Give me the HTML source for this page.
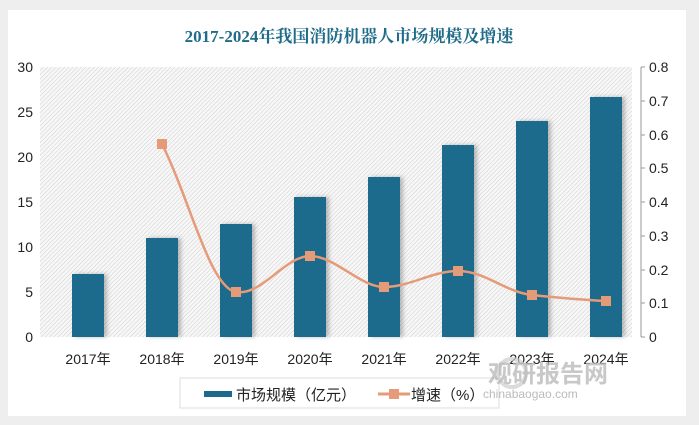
<!DOCTYPE html>
<html><head><meta charset="utf-8"><style>
body{margin:0;background:#eeeeee;}
svg{display:block;font-family:"Liberation Sans","Noto Sans CJK SC",sans-serif;}
</style></head><body>
<svg width="699" height="425" viewBox="0 0 699 425">
<defs>
<pattern id="h" width="3" height="3" patternUnits="userSpaceOnUse" patternTransform="rotate(45)">
<rect width="3" height="3" fill="#f7f7f7"/><line x1="0" y1="0" x2="0" y2="3" stroke="#cfcfcf" stroke-width="1"/>
</pattern>
<filter id="s" x="-20%" y="-5%" width="150%" height="110%"><feDropShadow dx="3" dy="0" stdDeviation="2" flood-color="#000" flood-opacity="0.25"/></filter>
</defs>
<rect x="8" y="10" width="678" height="406" fill="#fff"/>
<text x="349" y="42" text-anchor="middle" font-family="Liberation Serif,'Noto Serif CJK SC',serif" font-weight="bold" font-size="17" fill="#1f6b8a">2017-2024年我国消防机器人市场规模及增速</text>
<rect x="40" y="67" width="592" height="270" fill="url(#h)"/>
<g fill="#1b6a8c" filter="url(#s)">
<rect x="72" y="274" width="32" height="63"/>
<rect x="146" y="238" width="32" height="99"/>
<rect x="220" y="224" width="32" height="113"/>
<rect x="294" y="197" width="32" height="140"/>
<rect x="368" y="177" width="32" height="160"/>
<rect x="442" y="145" width="32" height="192"/>
<rect x="516" y="121" width="32" height="216"/>
<rect x="590" y="97" width="32" height="240"/>
</g>
<g font-size="14" fill="#222" text-anchor="end">
<text x="33" y="72">30</text><text x="33" y="117">25</text><text x="33" y="162">20</text><text x="33" y="207">15</text><text x="33" y="252">10</text><text x="33" y="297">5</text><text x="33" y="342">0</text>
</g>
<line x1="641" y1="67" x2="641" y2="337" stroke="#999"/>
<g stroke="#999"><line x1="641" y1="67" x2="645" y2="67"/><line x1="641" y1="101" x2="645" y2="101"/><line x1="641" y1="135" x2="645" y2="135"/><line x1="641" y1="168" x2="645" y2="168"/><line x1="641" y1="202" x2="645" y2="202"/><line x1="641" y1="236" x2="645" y2="236"/><line x1="641" y1="270" x2="645" y2="270"/><line x1="641" y1="303" x2="645" y2="303"/><line x1="641" y1="337" x2="645" y2="337"/></g>
<g font-size="14" fill="#222">
<text x="649" y="72">0.8</text><text x="649" y="106">0.7</text><text x="649" y="140">0.6</text><text x="649" y="173">0.5</text><text x="649" y="207">0.4</text><text x="649" y="241">0.3</text><text x="649" y="275">0.2</text><text x="649" y="308">0.1</text><text x="649" y="342">0</text>
</g>
<g font-size="14" fill="#222" text-anchor="middle">
<text x="88" y="364">2017年</text><text x="162" y="364">2018年</text><text x="236" y="364">2019年</text><text x="310" y="364">2020年</text><text x="384" y="364">2021年</text><text x="458" y="364">2022年</text><text x="532" y="364">2023年</text><text x="606" y="364">2024年</text>
</g>
<path d="M162,144 C190,200 210,288 236,292 C262,296 285,256 310,256 C335,256 360,287 384,287 C410,287 432,271 458,271 C485,271 505,292 532,295 C560,298 585,300 606,301" fill="none" stroke="#e59a78" stroke-width="2.5"/>
<g fill="#e59a78">
<rect x="157" y="139" width="10" height="10"/><rect x="231" y="287" width="10" height="10"/><rect x="305" y="251" width="10" height="10"/><rect x="379" y="282" width="10" height="10"/><rect x="453" y="266" width="10" height="10"/><rect x="527" y="290" width="10" height="10"/><rect x="601" y="296" width="10" height="10"/>
</g>
<rect x="180" y="378" width="319" height="30" fill="#fff" stroke="#ddd"/>
<rect x="204" y="391" width="28" height="6" fill="#1b6a8c"/>
<text x="236" y="400" font-size="15" fill="#222">市场规模（亿元）</text>
<line x1="378" y1="394" x2="410" y2="394" stroke="#e59a78" stroke-width="3"/>
<rect x="389" y="389" width="10" height="10" fill="#e59a78"/>
<text x="411" y="400" font-size="15" fill="#222">增速（%）</text>
<circle cx="512" cy="373" r="14" fill="none" stroke="#ccc" stroke-width="4" opacity="0.7"/>
<text x="488" y="382" font-size="24" font-weight="bold" fill="#bbb" opacity="0.8">观研报告网</text>
<text x="483" y="398" font-size="12" fill="#bbb">chinabaogao.com</text>
</svg>
</body></html>
